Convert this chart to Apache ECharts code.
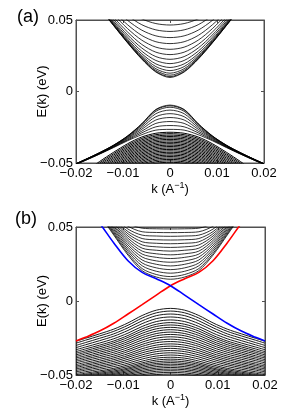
<!DOCTYPE html>
<html><head><meta charset="utf-8">
<script src="https://cdn.jsdelivr.net/npm/echarts@6/dist/echarts.min.js"></script>
<style>html,body{margin:0;padding:0;background:#fff;}#c{width:291px;height:416px;}</style>
</head><body><div id="c"></div>
<script>
// k sample points (A^-1); symmetric bands are read at k >= 0
const kHalf = [0, 0.003, 0.006, 0.009, 0.012, 0.015, 0.018, 0.02];
const kFull = [-0.02, -0.018, -0.015, -0.012, -0.009, -0.006, -0.003, 0, 0.003, 0.006, 0.009, 0.012, 0.015, 0.018, 0.02];
const xTicks = [-0.02, -0.01, 0, 0.01, 0.02];
const yTicks = [-0.05, 0, 0.05];

// Panel (a): conduction subbands (eV) at kHalf
const condA = [
 [0.0098, 0.0136, 0.0226, 0.0339, 0.0461, 0.0588, 0.075, 0.085],
 [0.0104, 0.0140, 0.0229, 0.0341, 0.0462, 0.0589, 0.075, 0.085],
 [0.0114, 0.0148, 0.0234, 0.0344, 0.0465, 0.0591, 0.075, 0.085],
 [0.0128, 0.0159, 0.0241, 0.0349, 0.0468, 0.0594, 0.075, 0.085],
 [0.0146, 0.0174, 0.0251, 0.0356, 0.0474, 0.0598, 0.076, 0.085],
 [0.0168, 0.0193, 0.0264, 0.0365, 0.0481, 0.0604, 0.076, 0.086],
 [0.0195, 0.0217, 0.0282, 0.0379, 0.0491, 0.0612, 0.077, 0.086],
 [0.0225, 0.0244, 0.0304, 0.0395, 0.0504, 0.0622, 0.078, 0.087],
 [0.0258, 0.0275, 0.0329, 0.0415, 0.0519, 0.0635, 0.079, 0.088],
 [0.0295, 0.0310, 0.0359, 0.0439, 0.0539, 0.0651, 0.080, 0.089],
 [0.0335, 0.0348, 0.0392, 0.0466, 0.0561, 0.0670, 0.081, 0.090],
 [0.0377, 0.0389, 0.0429, 0.0497, 0.0587, 0.0692, 0.083, 0.091],
 [0.0420, 0.0431, 0.0467, 0.0531, 0.0616, 0.0716, 0.085, 0.093],
 [0.0465, 0.0475, 0.0508, 0.0567, 0.0647, 0.0743, 0.087, 0.095]
];
// Panel (a): upper valence subbands
const valUpperA = [
 [-0.0095, -0.0125, -0.0225, -0.0310, -0.0375, -0.0428, -0.0475, -0.0505],
 [-0.0100, -0.0129, -0.0227, -0.0311, -0.0376, -0.0428, -0.0475, -0.0505],
 [-0.0110, -0.0138, -0.0232, -0.0313, -0.0377, -0.0429, -0.0476, -0.0505],
 [-0.0130, -0.0155, -0.0241, -0.0317, -0.0379, -0.0430, -0.0476, -0.0506],
 [-0.0155, -0.0176, -0.0252, -0.0322, -0.0381, -0.0432, -0.0477, -0.0507],
 [-0.0182, -0.0199, -0.0264, -0.0327, -0.0384, -0.0433, -0.0479, -0.0508],
 [-0.0210, -0.0223, -0.0277, -0.0333, -0.0387, -0.0435, -0.0480, -0.0508],
 [-0.0238, -0.0247, -0.0289, -0.0339, -0.0389, -0.0437, -0.0481, -0.0509],
 [-0.0265, -0.0270, -0.0302, -0.0344, -0.0392, -0.0438, -0.0482, -0.0510]
];
// Panel (a): dense lower valence subbands
const valDenseA = [
 [-0.0285, -0.0292, -0.0318, -0.0365, -0.0425, -0.0490, -0.0560, -0.0600],
 [-0.0295, -0.0302, -0.0328, -0.0375, -0.0435, -0.0500, -0.0570, -0.0610],
 [-0.0305, -0.0312, -0.0338, -0.0385, -0.0445, -0.0510, -0.0580, -0.0620],
 [-0.0315, -0.0322, -0.0348, -0.0395, -0.0455, -0.0520, -0.0590, -0.0630],
 [-0.0325, -0.0332, -0.0358, -0.0405, -0.0465, -0.0530, -0.0600, -0.0640],
 [-0.0335, -0.0342, -0.0368, -0.0415, -0.0475, -0.0540, -0.0610, -0.0650],
 [-0.0345, -0.0352, -0.0378, -0.0425, -0.0485, -0.0550, -0.0620, -0.0660],
 [-0.0355, -0.0362, -0.0388, -0.0435, -0.0495, -0.0560, -0.0630, -0.0670],
 [-0.0365, -0.0372, -0.0398, -0.0445, -0.0505, -0.0570, -0.0640, -0.0680],
 [-0.0375, -0.0382, -0.0408, -0.0455, -0.0515, -0.0580, -0.0650, -0.0690],
 [-0.0385, -0.0392, -0.0418, -0.0465, -0.0525, -0.0590, -0.0660, -0.0700],
 [-0.0395, -0.0402, -0.0428, -0.0475, -0.0535, -0.0600, -0.0670, -0.0710],
 [-0.0405, -0.0412, -0.0438, -0.0485, -0.0545, -0.0610, -0.0680, -0.0720],
 [-0.0415, -0.0422, -0.0448, -0.0495, -0.0555, -0.0620, -0.0690, -0.0730],
 [-0.0425, -0.0432, -0.0458, -0.0505, -0.0565, -0.0630, -0.0700, -0.0740],
 [-0.0435, -0.0442, -0.0468, -0.0515, -0.0575, -0.0640, -0.0710, -0.0750],
 [-0.0445, -0.0452, -0.0478, -0.0525, -0.0585, -0.0650, -0.0720, -0.0760],
 [-0.0455, -0.0462, -0.0488, -0.0535, -0.0595, -0.0660, -0.0730, -0.0770],
 [-0.0465, -0.0472, -0.0498, -0.0545, -0.0605, -0.0670, -0.0740, -0.0780],
 [-0.0475, -0.0482, -0.0508, -0.0555, -0.0615, -0.0680, -0.0750, -0.0790],
 [-0.0485, -0.0492, -0.0518, -0.0565, -0.0625, -0.0690, -0.0760, -0.0800],
 [-0.0495, -0.0502, -0.0528, -0.0575, -0.0635, -0.0700, -0.0770, -0.0810]
];
// Panel (b): bulk conduction subbands
const condB = [
 [0.0147, 0.0162, 0.0205, 0.0310, 0.0445, 0.0580, 0.0700, 0.0780],
 [0.0165, 0.0179, 0.0219, 0.0321, 0.0453, 0.0585, 0.0704, 0.0783],
 [0.0188, 0.0201, 0.0238, 0.0335, 0.0462, 0.0592, 0.0709, 0.0787],
 [0.0212, 0.0224, 0.0257, 0.0349, 0.0472, 0.0600, 0.0714, 0.0792],
 [0.0237, 0.0248, 0.0277, 0.0364, 0.0483, 0.0607, 0.0720, 0.0796],
 [0.0262, 0.0271, 0.0297, 0.0379, 0.0493, 0.0615, 0.0725, 0.0801],
 [0.0287, 0.0295, 0.0317, 0.0394, 0.0504, 0.0622, 0.0731, 0.0805],
 [0.0312, 0.0319, 0.0337, 0.0409, 0.0514, 0.0630, 0.0736, 0.0810],
 [0.0337, 0.0343, 0.0357, 0.0424, 0.0525, 0.0637, 0.0742, 0.0814],
 [0.0362, 0.0366, 0.0379, 0.0439, 0.0535, 0.0645, 0.0747, 0.0819],
 [0.0387, 0.0390, 0.0400, 0.0454, 0.0546, 0.0652, 0.0753, 0.0823],
 [0.0412, 0.0414, 0.0422, 0.0469, 0.0556, 0.0660, 0.0758, 0.0828],
 [0.0437, 0.0439, 0.0445, 0.0486, 0.0567, 0.0667, 0.0764, 0.0832],
 [0.0462, 0.0463, 0.0468, 0.0505, 0.0577, 0.0675, 0.0769, 0.0837],
 [0.0487, 0.0488, 0.0492, 0.0525, 0.0588, 0.0682, 0.0775, 0.0841]
];
// Panel (b): bulk valence subbands
const valB = [
 [-0.0050, -0.0062, -0.0098, -0.0148, -0.0190, -0.0222, -0.0252, -0.0272],
 [-0.0068, -0.0080, -0.0115, -0.0164, -0.0205, -0.0236, -0.0265, -0.0285],
 [-0.0088, -0.0099, -0.0134, -0.0181, -0.0222, -0.0252, -0.0281, -0.0300],
 [-0.0108, -0.0119, -0.0153, -0.0199, -0.0238, -0.0268, -0.0296, -0.0315],
 [-0.0128, -0.0139, -0.0172, -0.0217, -0.0255, -0.0284, -0.0311, -0.0329],
 [-0.0146, -0.0157, -0.0188, -0.0233, -0.0270, -0.0298, -0.0324, -0.0342],
 [-0.0162, -0.0172, -0.0203, -0.0246, -0.0282, -0.0310, -0.0336, -0.0353],
 [-0.0178, -0.0188, -0.0218, -0.0260, -0.0295, -0.0322, -0.0347, -0.0364],
 [-0.0194, -0.0204, -0.0233, -0.0274, -0.0308, -0.0334, -0.0358, -0.0375],
 [-0.0210, -0.0220, -0.0248, -0.0287, -0.0321, -0.0346, -0.0370, -0.0385],
 [-0.0226, -0.0235, -0.0263, -0.0301, -0.0333, -0.0358, -0.0381, -0.0396],
 [-0.0242, -0.0251, -0.0278, -0.0315, -0.0346, -0.0370, -0.0392, -0.0407],
 [-0.0258, -0.0267, -0.0293, -0.0329, -0.0359, -0.0382, -0.0403, -0.0418],
 [-0.0274, -0.0282, -0.0307, -0.0342, -0.0372, -0.0394, -0.0415, -0.0429],
 [-0.0290, -0.0298, -0.0322, -0.0356, -0.0384, -0.0406, -0.0426, -0.0440],
 [-0.0305, -0.0313, -0.0336, -0.0369, -0.0396, -0.0417, -0.0436, -0.0449],
 [-0.0320, -0.0328, -0.0350, -0.0381, -0.0408, -0.0428, -0.0447, -0.0459],
 [-0.0335, -0.0342, -0.0364, -0.0394, -0.0420, -0.0439, -0.0457, -0.0469],
 [-0.0350, -0.0357, -0.0378, -0.0407, -0.0431, -0.0450, -0.0467, -0.0479],
 [-0.0365, -0.0372, -0.0392, -0.0420, -0.0443, -0.0461, -0.0478, -0.0489],
 [-0.0380, -0.0386, -0.0406, -0.0432, -0.0455, -0.0472, -0.0488, -0.0498],
 [-0.0393, -0.0399, -0.0418, -0.0443, -0.0464, -0.0481, -0.0496, -0.0506],
 [-0.0405, -0.0411, -0.0428, -0.0453, -0.0473, -0.0489, -0.0503, -0.0513],
 [-0.0416, -0.0422, -0.0438, -0.0461, -0.0481, -0.0496, -0.0510, -0.0519],
 [-0.0427, -0.0432, -0.0448, -0.0470, -0.0489, -0.0503, -0.0516, -0.0525],
 [-0.0438, -0.0443, -0.0458, -0.0479, -0.0496, -0.0510, -0.0522, -0.0531],
 [-0.0449, -0.0454, -0.0468, -0.0488, -0.0504, -0.0517, -0.0528, -0.0536],
 [-0.0460, -0.0464, -0.0478, -0.0496, -0.0512, -0.0524, -0.0535, -0.0542],
 [-0.0471, -0.0475, -0.0488, -0.0505, -0.0520, -0.0531, -0.0541, -0.0548],
 [-0.0482, -0.0486, -0.0498, -0.0514, -0.0527, -0.0538, -0.0547, -0.0554],
 [-0.0493, -0.0497, -0.0507, -0.0522, -0.0535, -0.0545, -0.0554, -0.0560]
];
// Panel (b): surface states at kFull
const surfRedB  = [-0.0270, -0.0245, -0.0203, -0.0150, -0.0088, -0.0025, 0.0040, 0.0103, 0.0150, 0.0193, 0.0272, 0.0392, 0.0525, 0.0640, 0.0710];
const surfBlueB = [0.0710, 0.0640, 0.0525, 0.0392, 0.0272, 0.0193, 0.0150, 0.0103, 0.0040, -0.0025, -0.0088, -0.0150, -0.0203, -0.0245, -0.0270];

const FONT = 'Liberation Sans, Arial, Helvetica, sans-serif';
function mirror(row) { return kFull.map(k => [k, row[kHalf.indexOf(Math.abs(k))]]); }
function pair(vals) { return kFull.map((k, i) => [k, vals[i]]); }
function fmt(v) { return Math.abs(v) < 1e-9 ? '0' : v.toFixed(2).replace('-', '\u2212'); }

function bandSeries(rows, gi, w) {
  return rows.map(r => ({
    type: 'line', xAxisIndex: gi * 2, yAxisIndex: gi * 2, data: mirror(r),
    smooth: 0.3, symbol: 'none', showSymbol: false, silent: true, clip: true,
    lineStyle: { color: '#000', width: w }, z: 2
  }));
}
function surf(vals, color) {
  return { type: 'line', xAxisIndex: 2, yAxisIndex: 2, data: pair(vals), smooth: 0.35,
    symbol: 'none', showSymbol: false, silent: true, clip: true,
    lineStyle: { color: color, width: 1.6 }, z: 5 };
}
const axisCol = '#505050';
function xAxes(gi) {
  const base = { gridIndex: gi, type: 'value', min: xTicks[0], max: xTicks[xTicks.length - 1], interval: 0.01,
    splitLine: { show: false }, axisLine: { show: true, onZero: false, lineStyle: { color: axisCol, width: 1 } },
    axisTick: { show: true, inside: true, length: 3, lineStyle: { color: axisCol } } };
  return [
    Object.assign({}, base, { position: 'bottom',
      axisLabel: { formatter: fmt, color: '#000', fontSize: 13, fontFamily: FONT, margin: 4 },
      name: '{a|k (A}{s|\u22121}{a|)}', nameLocation: 'middle', nameGap: 18, nameMoveOverlap: false,
      nameTextStyle: { color: '#000', fontFamily: FONT, fontSize: 13, verticalAlign: 'top',
        rich: { a: { fontSize: 13, fontFamily: FONT, color: '#000', lineHeight: 16 },
                s: { fontSize: 9, fontFamily: FONT, color: '#000', lineHeight: 9, verticalAlign: 'top' } } } }),
    Object.assign({}, base, { position: 'top', axisLabel: { show: false } })
  ];
}
function yAxes(gi) {
  const base = { gridIndex: gi, type: 'value', min: yTicks[0], max: yTicks[yTicks.length - 1], interval: 0.05,
    splitLine: { show: false }, axisLine: { show: true, onZero: false, lineStyle: { color: axisCol, width: 1 } },
    axisTick: { show: true, inside: true, length: 3, lineStyle: { color: axisCol } } };
  return [
    Object.assign({}, base, { position: 'left',
      axisLabel: { formatter: fmt, color: '#000', fontSize: 13, fontFamily: FONT, margin: 3 },
      name: 'E(k) (eV)', nameLocation: 'middle', nameGap: 27, nameMoveOverlap: false,
      nameTextStyle: { color: '#000', fontFamily: FONT, fontSize: 13 } }),
    Object.assign({}, base, { position: 'right', axisLabel: { show: false } })
  ];
}

const chart = echarts.init(document.getElementById('c'), null, { renderer: 'canvas' });
chart.setOption({
  animation: false,
  backgroundColor: '#fff',
  title: [
    { text: '(a)', left: 17, top: 8, padding: 0, textStyle: { fontSize: 18, fontWeight: 'normal', color: '#000', fontFamily: FONT } },
    { text: '(b)', left: 15, top: 210, padding: 0, textStyle: { fontSize: 18, fontWeight: 'normal', color: '#000', fontFamily: FONT } }
  ],
  grid: [
    { left: 76, top: 20, width: 188, height: 143, show: true, borderColor: axisCol, borderWidth: 1, containLabel: false },
    { left: 76, top: 227, width: 189, height: 148, show: true, borderColor: axisCol, borderWidth: 1, containLabel: false }
  ],
  xAxis: xAxes(0).concat(xAxes(1)),
  yAxis: yAxes(0).concat(yAxes(1)),
  series: [].concat(
    bandSeries(condA, 0, 0.8), bandSeries(valUpperA, 0, 0.8), bandSeries(valDenseA, 0, 1),
    bandSeries(condB, 1, 0.8), bandSeries(valB, 1, 0.9),
    [surf(surfRedB, '#ff0000'), surf(surfBlueB, '#0000ff')]
  )
});
</script></body></html>
